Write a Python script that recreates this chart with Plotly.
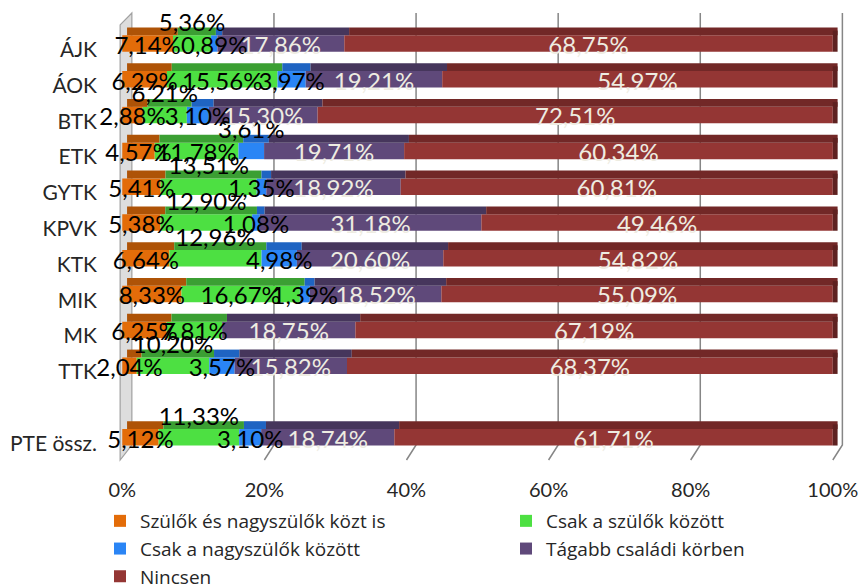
import plotly.graph_objects as go
import numpy as np

categories = ["ÁJK", "ÁOK", "BTK", "ETK", "GYTK", "KPVK", "KTK", "MIK", "MK", "TTK", "PTE össz."]
series_names = ["Szülők és nagyszülők közt is", "Csak a szülők között",
                "Csak a nagyszülők között", "Tágabb családi körben", "Nincsen"]
szulok_es_nagyszulok = [7.14, 6.29, 2.88, 4.57, 5.41, 5.38, 6.64, 8.33, 6.25, 2.04, 5.12]
csak_szulok = [5.36, 15.56, 6.21, 11.78, 13.51, 12.90, 12.96, 16.67, 7.81, 10.20, 11.33]
csak_nagyszulok = [0.89, 3.97, 3.10, 3.61, 1.35, 1.08, 4.98, 1.39, 0.0, 3.57, 3.10]
tagabb = [17.86, 19.21, 15.30, 19.71, 18.92, 31.18, 20.60, 18.52, 18.75, 15.82, 18.74]
nincsen = [68.75, 54.97, 72.51, 60.34, 60.81, 49.46, 54.82, 55.09, 67.19, 68.37, 61.71]
x_ticks = [0, 20, 40, 60, 80, 100]
x_ticklabels = ["0%", "20%", "40%", "60%", "80%", "100%"]

series_values = [szulok_es_nagyszulok, csak_szulok, csak_nagyszulok, tagabb, nincsen]
front_colors = ["#E36C09", "#4DE042", "#2A85F5", "#5F497A", "#943634"]
top_colors = ["#AE5307", "#3B9F33", "#1F64C2", "#46365C", "#722827"]
label_colors = ["#000000", "#000000", "#000000", "#EEECE1", "#EEECE1"]
legend_of_series = ["legend", "legend2", "legend", "legend2", "legend"]
# labels moved above the bar (as in the original, to avoid overlap)
raised = {1: ["ÁJK", "BTK", "GYTK", "KPVK", "KTK", "TTK", "PTE össz."], 2: ["ETK"]}

FONT = "Lato, 'Open Sans', sans-serif"
LEGEND_FONT = "'Open Sans', Lato, sans-serif"
n = len(categories)
ypos = np.array(list(range(n - 1)) + [n], dtype=float)  # gap before total row

vals = np.array(series_values)
bases = np.vstack([np.zeros(n), np.cumsum(vals, axis=0)[:-1]])
totals = vals.sum(axis=0)

DX = 1.35      # 3D depth offset in % units
FH = 0.46      # front face height
TH = 0.22      # top face height

fig = go.Figure()
for s in range(5):
    fig.add_trace(go.Bar(
        orientation="h", y=ypos, x=vals[s], base=bases[s],
        width=FH, offset=-FH / 2, marker=dict(color=front_colors[s], line=dict(width=0)),
        name=series_names[s], legend=legend_of_series[s], hoverinfo="skip"))
for s in range(5):
    fig.add_trace(go.Bar(
        orientation="h", y=ypos, x=vals[s], base=bases[s] + DX / 2,
        width=TH, offset=-FH / 2 - TH, marker=dict(color=top_colors[s], line=dict(width=0)),
        showlegend=False, hoverinfo="skip"))
# right side face of the stack
fig.add_trace(go.Bar(
    orientation="h", y=ypos, x=[DX / 2] * n, base=totals,
    width=FH + TH * 0.6, offset=-FH / 2 - TH * 0.6,
    marker=dict(color="#5E2120", line=dict(width=0)), showlegend=False, hoverinfo="skip"))

# data labels
for s in range(5):
    xs, ys, ts = [], [], []
    for i, c in enumerate(categories):
        v = vals[s][i]
        if v <= 0:
            continue
        xs.append(bases[s][i] + v / 2)
        up = c in raised.get(s, [])
        ys.append(ypos[i] - 0.52 if up else ypos[i] + 0.12)
        ts.append(f"{v:.2f}".replace(".", ",") + "%")
    fig.add_trace(go.Scatter(
        x=xs, y=ys, text=ts, mode="text", textposition="middle center",
        textfont=dict(family=FONT, size=24, color=label_colors[s]),
        showlegend=False, hoverinfo="skip", cliponaxis=False))

# 3D walls / gridlines (decoration)
y_top_back, y_top_front = -0.852, -0.52
y_bot_back, y_bot_front = 11.215, 11.634
shapes = [dict(type="path", xref="x", yref="y", layer="below",
               path=f"M -0.3,{y_top_front} L {DX},{y_top_back} L {DX},{y_bot_back} L -0.3,{y_bot_front} Z",
               fillcolor="#DDDDDD", line=dict(color="#A0A0A0", width=1.2))]
for t in x_ticks[1:]:
    shapes.append(dict(type="path", xref="x", yref="y", layer="below",
                       path=f"M {t + DX},{y_top_back} L {t + DX},{y_bot_back} L {t},{y_bot_front}",
                       line=dict(color="#868686", width=1.5)))

legend_common = dict(orientation="v", xref="container", yref="container",
                     xanchor="left", yanchor="top", tracegroupgap=0,
                     font=dict(family=LEGEND_FONT, size=19, color="#262626"),
                     bgcolor="rgba(0,0,0,0)")

fig.update_layout(
    width=861, height=588,
    margin=dict(l=118, r=14, t=10, b=126, autoexpand=False),
    paper_bgcolor="white", plot_bgcolor="white",
    barmode="overlay",
    shapes=shapes,
    font=dict(family=FONT, size=20, color="#262626"),
    xaxis=dict(range=[-0.6, 102], tickvals=x_ticks, ticktext=x_ticklabels,
               showgrid=False, zeroline=False, showline=False, ticks="",
               ticklabelstandoff=14, tickfont=dict(size=20, color="#262626"), fixedrange=True),
    yaxis=dict(range=[11.69, -0.936], tickvals=ypos + 0.17, ticktext=categories,
               showgrid=False, zeroline=False, showline=False, ticks="",
               ticklabelstandoff=20, tickfont=dict(size=21, color="#262626"), fixedrange=True),
    legend=dict(legend_common, x=100 / 861, y=1 - 502 / 588),
    legend2=dict(legend_common, x=506 / 861, y=1 - 502 / 588),
    showlegend=True,
)

fig.write_html("out.html", config={"displayModeBar": False},
               post_script="document.body.style.margin='0';document.body.style.overflow='hidden';")
